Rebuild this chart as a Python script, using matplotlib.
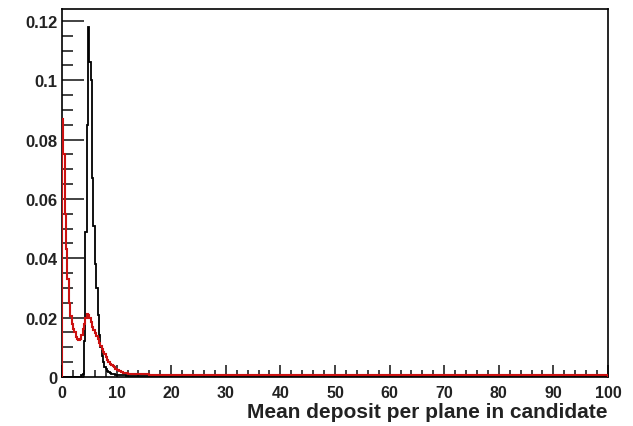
import matplotlib
matplotlib.use('Agg')
import matplotlib.pyplot as plt
from matplotlib.ticker import MultipleLocator, FixedLocator, FixedFormatter
import numpy as np

# bin edges: fine 0.25 bins up to 12, then coarse bins for the flat tail
fine_edges = np.arange(0, 12, 0.25)
tail_edges = [12, 14, 16, 18, 20, 25, 30, 40, 60, 100]
edges = np.concatenate([fine_edges, tail_edges])

# black histogram (peak near 5)
black_fine = [0, 0, 0, 0, 0, 0, 0, 0, 0, 0, 0, 0, 0, 0, 0.0005,
              0.001, 0.012, 0.049, 0.085, 0.118, 0.106, 0.100, 0.067, 0.051,
              0.038, 0.030, 0.021, 0.014, 0.010, 0.007, 0.005, 0.0035,
              0.0027, 0.002, 0.0016, 0.0013, 0.0011, 0.001, 0.0009, 0.0008,
              0.0007, 0.0007, 0.0006, 0.0006, 0.0005, 0.0005, 0.0005, 0.0004]
black_tail = [0.0004, 0.0003, 0.0003, 0.0002, 0.0002, 0.0002, 0.0002, 0.0002, 0.0002]

# red histogram (spike at 0, bump near 4.5)
red_fine = [0.087, 0.075, 0.055, 0.043, 0.033, 0.025, 0.0205, 0.018,
            0.016, 0.015, 0.0135, 0.0128, 0.0125, 0.0128, 0.0142, 0.016,
            0.018, 0.0198, 0.0212, 0.021, 0.0198, 0.0185, 0.017, 0.0158,
            0.0148, 0.0138, 0.0127, 0.0116, 0.0105, 0.0095, 0.0085, 0.0076,
            0.0066, 0.0058, 0.0051, 0.0045, 0.004, 0.0036, 0.0032, 0.0028,
            0.0025, 0.0022, 0.002, 0.0018, 0.0016, 0.0015, 0.0014, 0.0013]
red_tail = [0.0011, 0.0009, 0.0008, 0.0007, 0.0006, 0.0006, 0.0005, 0.0005, 0.0005]

black_vals = black_fine + black_tail
red_vals = red_fine + red_tail

x_ticks = [0, 10, 20, 30, 40, 50, 60, 70, 80, 90, 100]
y_ticks = [0, 0.02, 0.04, 0.06, 0.08, 0.1, 0.12]
y_labels = ['0', '0.02', '0.04', '0.06', '0.08', '0.1', '0.12']

plt.rcParams['font.family'] = ['Liberation Sans', 'DejaVu Sans']

fig = plt.figure(figsize=(6.33, 4.27), dpi=100)
ax = fig.add_axes([0.098, 0.1148, 0.8625, 0.8618])

ax.stairs(black_vals, edges, color='black', linewidth=1.3, zorder=3)
ax.stairs(red_vals, edges, color='#cc1111', linewidth=1.5, zorder=4)

ax.set_xlim(0, 100)
ax.set_ylim(0, 0.124)

ax.xaxis.set_major_locator(FixedLocator(x_ticks))
ax.xaxis.set_minor_locator(MultipleLocator(2))
ax.yaxis.set_major_locator(FixedLocator(y_ticks))
ax.yaxis.set_major_formatter(FixedFormatter(y_labels))
ax.yaxis.set_minor_locator(MultipleLocator(0.005))

ax.tick_params(axis='both', which='both', direction='in', top=False, right=False,
               labelsize=11.5, colors='#222222', width=1.2)
ax.tick_params(axis='y', which='major', length=16, pad=3, labelsize=12)
ax.tick_params(axis='y', which='minor', length=8)
ax.tick_params(axis='x', which='major', length=9, pad=6)
ax.tick_params(axis='x', which='minor', length=5)
for lab in ax.get_xticklabels() + ax.get_yticklabels():
    lab.set_fontweight('bold')

for s in ax.spines.values():
    s.set_linewidth(1.2)
    s.set_color('black')

ax.set_xlabel('Mean deposit per plane in candidate', fontsize=15, fontweight='bold',
              color='#222222', loc='right', labelpad=1)

fig.savefig('out.png', dpi=100)
